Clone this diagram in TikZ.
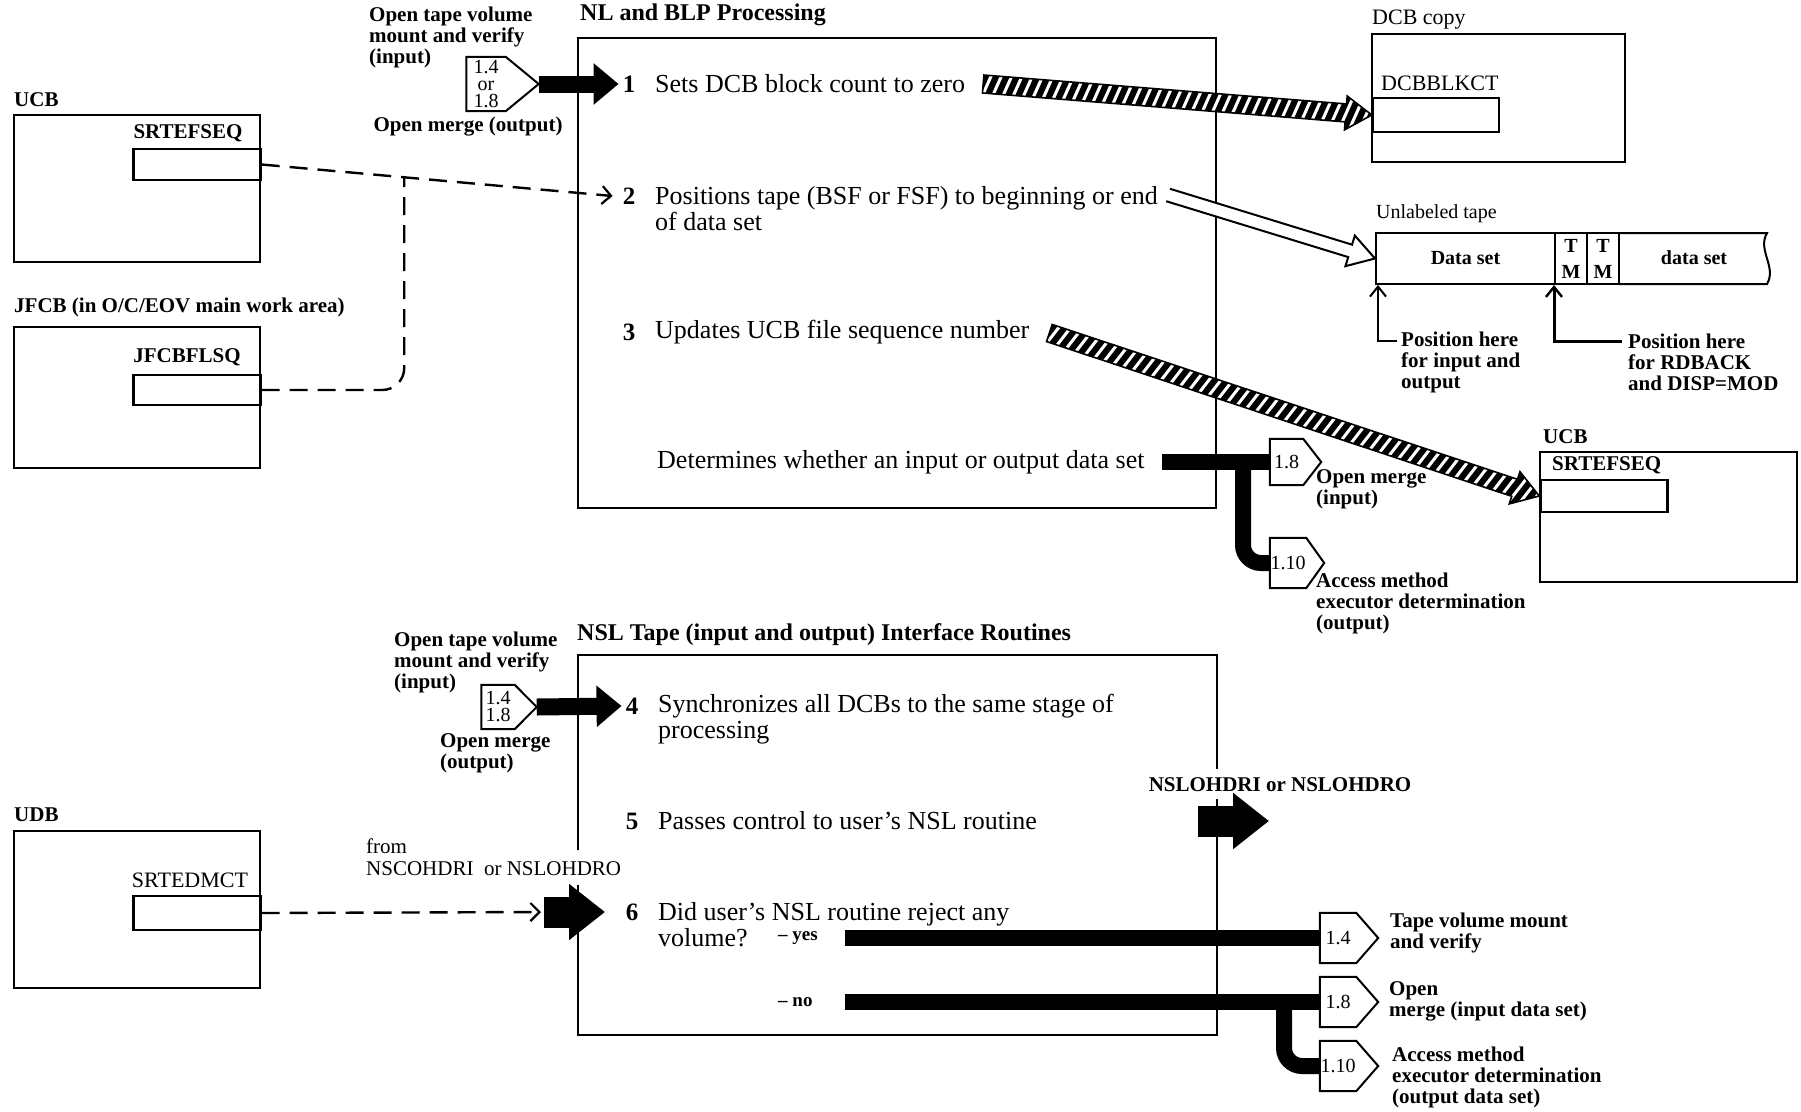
\documentclass[tikz,border=0pt]{standalone}
\usepackage{fontspec}
\setmainfont{Liberation Serif}
\usetikzlibrary{arrows.meta,calc}

\newcommand\offconn[7]{%
  \node[cbody, minimum width=#4pt, minimum height=#5pt] (#1) at (#2,#3) {#7};
  \draw[cline] (#1.north west) -- (#1.north east) -- ($(#1.east)+(#6,0)$) coordinate (#1-tip) -- (#1.south east) -- (#1.south west) -- cycle;
}

\newcommand\arrowsetup[3]{%
  \path #1 coordinate (hA);
  \path #2 coordinate (hB);
  \pgfpointdiff{\pgfpointanchor{hA}{center}}{\pgfpointanchor{hB}{center}}%
  \pgfgetlastxy{\hdx}{\hdy}%
  \pgfmathsetmacro\hlen{veclen(\hdx,\hdy)}%
  \pgfmathsetmacro\hang{atan2(\hdy,\hdx)}%
  \pgfmathsetmacro\hbase{\hlen-#3}%
  \pgfmathsetmacro\hend{\hlen+10}%
}

\newcommand\hatcharrow[2]{%
  \arrowsetup{#1}{#2}{26}%
  \begin{scope}[shift={(hA)}, rotate=\hang, x=1pt, y=1pt]
    \begin{scope}
      \clip (0,-9) -- (\hbase,-9) -- (\hbase,-17) -- (\hlen,0) -- (\hbase,17) -- (\hbase,9) -- (0,9) -- cycle;
      \fill[white] (-5,-20) rectangle (\hend,20);
      \foreach \i in {-30,-20,...,\hend} {\fill (\i,-17) -- ++(6.5,0) -- ++(12,34) -- ++(-6.5,0) -- cycle;}
    \end{scope}
    \draw[line width=1.6pt, line join=miter] (0,-9) -- (\hbase,-9) -- (\hbase,-17) -- (\hlen,0) -- (\hbase,17) -- (\hbase,9) -- (0,9) -- cycle;
  \end{scope}
}

\newcommand\hollowarrow[2]{%
  \arrowsetup{#1}{#2}{26}%
  \begin{scope}[shift={(hA)}, rotate=\hang, x=1pt, y=1pt]
    \fill[white] (0,-6.5) -- (\hbase,-6.5) -- (\hbase,-16) -- (\hlen,0) -- (\hbase,16) -- (\hbase,6.5) -- (0,6.5) -- cycle;
    \draw[line width=2pt, line join=miter] (0,6.5) -- (\hbase,6.5) -- (\hbase,16) -- (\hlen,0) -- (\hbase,-16) -- (\hbase,-6.5) -- (0,-6.5);
  \end{scope}
}

\begin{document}
\begin{tikzpicture}[x=1pt,y=-1pt,
  box/.style={line width=2.4pt},
  fld/.style={draw, line width=2.4pt, inner sep=0pt},
  ttl/.style={font=\bfseries\fontsize{24}{26}\selectfont, anchor=west, inner sep=0pt},
  stp/.style={font=\fontsize{26}{26}\selectfont, anchor=west, inner sep=0pt, align=left},
  num/.style={font=\bfseries\fontsize{25}{26}\selectfont, anchor=center, inner sep=0pt},
  lbl/.style={font=\bfseries\fontsize{21}{21}\selectfont, anchor=west, inner sep=0pt, align=left},
  rlbl/.style={font=\fontsize{22}{22}\selectfont, anchor=west, inner sep=0pt, align=left},
  cbody/.style={inner sep=0pt, font=\fontsize{20}{17}\selectfont, align=center},
  cline/.style={line width=2pt, line join=miter},
  tcell/.style={draw, line width=2pt, minimum height=51pt, inner sep=0pt, align=center, font=\bfseries\fontsize{20}{26}\selectfont},
  dsh/.style={line width=2.4pt, dash pattern=on 18pt off 10pt},
  fat/.style={line width=16pt},
  fatarrow/.style={line width=17pt, -{Triangle[length=25pt,width=40pt]}},
  bigarrow/.style={line width=31pt, -{Triangle[length=36pt,width=54pt]}},
  barb/.style={-{Straight Barb[length=9pt,width=18pt,line width=2.2pt]}},
]
\fill[white] (0,0) rectangle (1801,1111);
\useasboundingbox (0,0) rectangle (1801,1111);

% ---------- left data areas ----------
\node[lbl] (lucb) at (14,100) {UCB};
\draw[box] (14,115) rectangle (260,262);
\node[fld, minimum width=127pt, minimum height=31pt] (ucbF) at (197,164.5) {};
\node[lbl, anchor=center] (lucbf) at (188,133) {SRTEFSEQ};

\node[lbl] (ljfcb) at (14,307) {JFCB (in O/C/EOV main work area)};
\draw[box] (14,327) rectangle (260,468);
\node[fld, minimum width=127pt, minimum height=30pt] (jfF) at (197,390) {};
\node[lbl, anchor=center] (ljff) at (187,357) {JFCBFLSQ};

\node[lbl] (ludb) at (14,815) {UDB};
\draw[box] (14,831) rectangle (260,988);
\node[fld, minimum width=127pt, minimum height=34pt] (udbF) at (197,913) {};
\node[rlbl, anchor=center] (ludbf) at (190,880) {SRTEDMCT};

% ---------- NL and BLP box ----------
\node[ttl] (t1) at (580,15) {NL and BLP Processing};
\draw[box] (578,38) rectangle (1216,508);

\node[lbl] (in1) at (369,37) {Open tape volume\\mount and verify\\(input)};
\node[lbl, anchor=center] (in1b) at (468,127) {Open merge (output)};
\offconn{cA}{486}{84}{39}{54}{33}{1.4\\or\\1.8}

\node[num] (n1) at (629,84) {1};
\node[stp] (s1) at (655,84) {Sets DCB block count to zero};
\node[num] (n2) at (629,196) {2};
\node[stp] (s2) at (655,209) {Positions tape (BSF or FSF) to beginning or end\\of data set};
\node[num] (n3) at (629,332) {3};
\node[stp] (s3) at (655,332) {Updates UCB file sequence number};
\node[stp] (sd) at (657,462) {Determines whether an input or output data set};

\draw[fatarrow] (cA-tip) -- ($(n1.west)+(-4,0)$);

% dashed connectors
\draw[dsh, barb] (ucbF.east) -- ($(n2.west)+(-10,0)$);
\coordinate (j1) at ($(ucbF.east)!0.395!(n2.west)$);
\draw[dsh, rounded corners=22pt] (jfF.east) -| (j1);

% ---------- DCB copy ----------
\node[rlbl] (ldcb) at (1372,20) {DCB copy};
\draw[box] (1372,34) rectangle (1625,162);
\node[fld, minimum width=126pt, minimum height=34pt] (dcbF) at (1436,115) {};
\node[rlbl] (ldcbf) at (1381,83) {DCBBLKCT};

% ---------- tape ----------
\node[rlbl, font=\fontsize{20}{20}\selectfont] (ltape) at (1376,214) {Unlabeled tape};
\node[tcell, minimum width=179pt] (ds1) at (1465.5,258.5) {Data set};
\node[tcell, minimum width=32pt] (tm1) at (1571,258.5) {T\\M};
\node[tcell, minimum width=32pt] (tm2) at (1603,258.5) {T\\M};
\node[inner sep=0pt, font=\bfseries\fontsize{20}{20}\selectfont] (ds2) at (1694,258) {data set};
\draw[line width=2pt] (1619,233) -- (1767,233) .. controls (1757,250) and (1777,267) .. (1767,284) -- (1619,284);

\node[lbl] (pos1) at (1401,362) {Position here\\for input and\\output};
\node[lbl] (pos2) at (1628,362) {Position here\\for RDBACK\\and DISP=MOD};
\coordinate (p1) at (1397,341);
\coordinate (p2) at (1622,341);
\draw[line width=2pt, -{Straight Barb[length=10pt,width=16pt,line width=2pt]}] (p1) -| ($(ds1.south west)+(3,0)$);
\draw[line width=3pt, -{Straight Barb[length=10pt,width=16pt,line width=2.4pt]}] (p2) -| (tm1.south west);

% ---------- right UCB ----------
\node[lbl] (lucbr) at (1543,437) {UCB};
\draw[box] (1540,452) rectangle (1797,582);
\node[fld, minimum width=127pt, minimum height=32pt] (ucbRF) at (1604,496) {};
\node[lbl, font=\bfseries\fontsize{21}{21}\selectfont] (lucbrf) at (1552,465) {SRTEFSEQ};

% ---------- hatched / hollow arrows ----------
\hatcharrow{($(s1.east)+(18,0)$)}{(dcbF.west)}
\hollowarrow{($(s2.east)+(10,-14)$)}{(ds1.west)}
\hatcharrow{($(s3.east)+(20,1)$)}{(ucbRF.west)}

% ---------- exits of the top box ----------
\offconn{cC}{1286.5}{462}{33}{46}{18}{1.8}
\offconn{cD}{1288}{563}{36}{50}{18}{1.10}
\draw[fat] ($(sd.east)+(17,0)$) -- (cC.west);
\coordinate (j2) at (1243,462);
\draw[fat, rounded corners=18pt] (j2) |- (cD.west);
\node[lbl] (lc1) at (1316,489) {Open merge\\(input)};
\node[lbl] (lc2) at (1316,603) {Access method\\executor determination\\(output)};

% ---------- NSL box ----------
\node[ttl] (t2) at (577,635) {NSL Tape (input and output) Interface Routines};
\draw[box] (578,850) -- (578,655) -- (1217,655) -- (1217,769);
\draw[box] (1217,799) -- (1217,1035) -- (578,1035) -- (578,885);

\node[lbl] (in2) at (394,662) {Open tape volume\\mount and verify\\(input)};
\node[lbl] (in2b) at (440,753) {Open merge\\(output)};
\offconn{cB}{498}{707}{33}{44}{22}{1.4\\1.8}

\node[num] (n4) at (632,706) {4};
\node[stp] (s4) at (658,719) {Synchronizes all DCBs to the same stage of\\processing};
\node[num] (n5) at (632,821) {5};
\node[stp] (s5) at (658,821) {Passes control to user’s NSL routine};
\node[num] (n6) at (632,912) {6};
\node[stp] (s6) at (658,925) {Did user’s NSL routine reject any\\volume?};
\node[lbl, font=\bfseries\fontsize{19}{19}\selectfont] (yes) at (778,938) {\textendash\ yes};
\node[lbl, font=\bfseries\fontsize{19}{19}\selectfont] (no) at (778,1002) {\textendash\ no};

\draw[fatarrow] (cB-tip) -- ($(n4.west)+(-4,0)$);

% NSLOHDRI exit
\node[lbl, anchor=center] (nslo) at (1280,785) {NSLOHDRI or NSLOHDRO};
\coordinate (nA) at (1198,821);
\coordinate (nB) at (1269,821);
\draw[bigarrow] (nA) -- (nB);

% from NSCOHDRI entry
\node[rlbl, font=\fontsize{21}{22}\selectfont] (from) at (366,857) {from\\NSCOHDRI\ \ or NSLOHDRO};
\coordinate (fA) at (544,912);
\coordinate (fB) at (605,912);
\draw[bigarrow] (fA) -- (fB);
\draw[dsh, barb] (udbF.east) -- ($(fA)+(-3,0)$);

% yes / no exits
\offconn{cE}{1338}{938}{36}{50}{22}{1.4}
\offconn{cF}{1338}{1002}{36}{50}{22}{1.8}
\offconn{cG}{1338}{1066}{36}{50}{22}{1.10}
\coordinate (yS) at (845,938);
\coordinate (nS) at (845,1002);
\draw[fat] (yS) -- (cE.west);
\draw[fat] (nS) -- (cF.west);
\coordinate (j3) at (1284,1002);
\draw[fat, rounded corners=18pt] (j3) |- (cG.west);
\node[lbl] (le1) at (1390,933) {Tape volume mount\\and verify};
\node[lbl] (le2) at (1389,1001) {Open\\merge (input data set)};
\node[lbl] (le3) at (1392,1077) {Access method\\executor determination\\(output data set)};
\end{tikzpicture}
\end{document}
